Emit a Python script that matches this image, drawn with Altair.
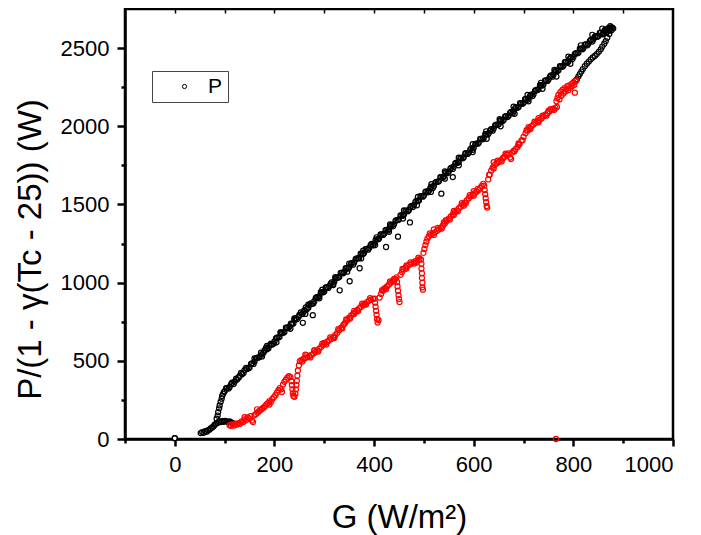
import altair as alt
import pandas as pd

# ---- data ----
black_g = [0,
    52, 55, 58, 61, 64, 67, 70, 72, 75, 78, 80, 83, 86, 89, 92, 95, 98, 101, 104, 107, 110, 113, 116,
    84, 86, 87, 89, 90, 92, 94, 95, 97, 99,
    100, 105, 110, 115, 120, 125, 130, 135, 140, 145, 150, 155, 160, 165, 170, 175, 180, 185, 190, 195,
    200, 205, 210, 215, 220, 225, 230, 235, 240, 245, 250, 255, 260, 265, 270, 275, 280, 285, 290, 295,
    300, 305, 310, 315, 320, 325, 330, 335, 340, 345, 350, 355, 360, 365, 370, 375, 380, 385, 390, 395,
    400, 405, 410, 415, 420, 425, 430, 435, 440, 445, 450, 455, 460, 465, 470, 475, 480, 485, 490, 495,
    500, 505, 510, 515, 520, 525, 530, 535, 540, 545, 550, 555, 560, 565, 570, 575, 580, 585, 590, 595,
    600, 605, 610, 615, 620, 625, 630, 635, 640, 645, 650, 655, 660, 665, 670, 675, 680, 685, 690, 695,
    700, 705, 710, 715, 720, 725, 730, 735, 740, 745, 750, 755, 760, 765, 770, 775, 780, 785, 790, 795,
    800, 805, 810, 815, 820, 825, 830, 835, 840, 845, 850, 855, 860, 865, 870, 875, 878,
    160, 185, 212, 240, 268, 296, 322, 350, 378, 405, 432, 460, 488, 515, 542, 570, 598, 625, 652, 680,
    708, 735, 762, 790, 815, 838, 858,
    175, 204, 232, 262, 290, 318, 346, 374, 402, 430, 458, 486, 514, 542, 570, 598, 626, 654, 682, 710,
    738, 766, 794,
    257, 277, 331, 351, 371, 424, 448, 472, 535, 558,
    876, 872, 868, 865, 862, 858, 855, 851, 847, 843, 839, 835, 831, 827, 823, 819, 816, 813, 810, 807, 804,
    870, 874, 866, 860, 880, 872]
black_p = [5,
    38, 44, 40, 50, 47, 56, 60, 68, 74, 82, 92, 98, 104, 112, 108, 114, 110, 116, 112, 108, 112, 106, 102,
    130, 150, 172, 196, 215, 238, 258, 275, 290, 302,
    305, 326, 333, 360, 366, 380, 403, 414, 441, 447, 458, 484, 495, 520, 524, 541, 566, 574, 599, 603,
    622, 648, 652, 677, 684, 712, 719, 736, 761, 766, 793, 798, 822, 830, 858, 863, 881, 907, 912, 938,
    944, 969, 977, 1002, 1006, 1031, 1036, 1063, 1068, 1092, 1098, 1124, 1129, 1155, 1158, 1185, 1190, 1216, 1221, 1247,
    1250, 1277, 1282, 1308, 1312, 1338, 1343, 1369, 1373, 1399, 1404, 1430, 1435, 1461, 1465, 1491, 1496, 1522, 1526, 1553,
    1557, 1583, 1588, 1614, 1618, 1645, 1649, 1675, 1679, 1706, 1710, 1736, 1741, 1767, 1771, 1798, 1802, 1828, 1832, 1859,
    1863, 1889, 1894, 1920, 1924, 1951, 1955, 1981, 1985, 2010, 2013, 2037, 2040, 2065, 2068, 2092, 2095, 2120, 2123, 2147,
    2150, 2175, 2178, 2202, 2205, 2232, 2236, 2263, 2268, 2294, 2299, 2325, 2330, 2355, 2358, 2383, 2387, 2412, 2415, 2440,
    2443, 2468, 2471, 2496, 2499, 2524, 2527, 2552, 2555, 2577, 2576, 2598, 2598, 2619, 2615, 2633, 2630,
    515, 595, 682, 772, 860, 955, 1035, 1122, 1205, 1290, 1372, 1462, 1548, 1630, 1712, 1800, 1885, 1968, 2045, 2125,
    2200, 2278, 2360, 2445, 2518, 2585, 2625,
    528, 618, 705, 800, 900, 985, 1070, 1155, 1240, 1325, 1410, 1495, 1580, 1665, 1750, 1835, 1920, 2000, 2080, 2160,
    2240, 2318, 2400,
    743, 792, 951, 1009, 1092, 1228, 1294, 1385, 1569, 1675,
    2612, 2590, 2566, 2545, 2528, 2510, 2492, 2476, 2462, 2450, 2440, 2428, 2414, 2400, 2384, 2366, 2350, 2334, 2318, 2300, 2290,
    2628, 2640, 2600, 2590, 2625, 2612]

# second run of the black band (interleaved readings)
black2_g = [103, 108, 113, 118, 123, 128, 133, 138, 143, 148, 153, 158, 163, 168, 173, 178, 183, 188, 193, 198,
    203, 208, 213, 218, 223, 228, 233, 238, 243, 248, 253, 258, 263, 268, 273, 278, 283, 288, 293, 298,
    303, 308, 313, 318, 323, 328, 333, 338, 343, 348, 353, 358, 363, 368, 373, 378, 383, 388, 393, 398,
    403, 408, 413, 418, 423, 428, 433, 438, 443, 448, 453, 458, 463, 468, 473, 478, 483, 488, 493, 498,
    503, 508, 513, 518, 523, 528, 533, 538, 543, 548, 553, 558, 563, 568, 573, 578, 583, 588, 593, 598,
    603, 608, 613, 618, 623, 628, 633, 638, 643, 648, 653, 658, 663, 668, 673, 678, 683, 688, 693, 698,
    703, 708, 713, 718, 723, 728, 733, 738, 743, 748, 753, 758, 763, 768, 773, 778, 783, 788, 793, 798,
    803, 808, 813, 818, 823, 828, 833, 838, 843, 848, 853, 858, 863, 868, 873]
black2_p = [325, 323, 351, 351, 386, 392, 423, 422, 454, 452, 480, 480, 515, 521, 552, 551, 583, 581, 609, 609,
    644, 650, 681, 680, 712, 710, 738, 738, 773, 779, 810, 809, 841, 839, 867, 867, 902, 908, 939, 938,
    969, 966, 994, 993, 1027, 1033, 1063, 1060, 1092, 1089, 1116, 1115, 1150, 1155, 1185, 1183, 1214, 1211, 1239, 1238,
    1272, 1277, 1308, 1305, 1336, 1334, 1361, 1360, 1395, 1400, 1430, 1427, 1459, 1456, 1483, 1483, 1517, 1522, 1553, 1550,
    1581, 1578, 1606, 1605, 1639, 1645, 1675, 1672, 1704, 1701, 1728, 1727, 1762, 1767, 1797, 1795, 1826, 1823, 1851, 1850,
    1884, 1889, 1920, 1917, 1948, 1946, 1973, 1972, 2005, 2009, 2038, 2034, 2063, 2059, 2085, 2083, 2115, 2119, 2148, 2144,
    2173, 2169, 2195, 2193, 2226, 2232, 2263, 2260, 2292, 2290, 2317, 2317, 2350, 2354, 2384, 2380, 2410, 2406, 2432, 2430,
    2463, 2467, 2496, 2492, 2522, 2518, 2544, 2542, 2573, 2572, 2597, 2588, 2614, 2605, 2627]

red_g = [110, 113, 116, 119, 122, 125, 128, 131, 134, 137, 140, 143, 146, 149, 152, 155, 157, 160, 163, 166,
    169, 172, 175, 178, 181, 184, 187, 190, 193, 196, 199, 202, 205, 208, 211, 214, 217, 220, 223, 226,
    229, 232, 234, 235, 236, 237, 238, 240, 242, 243, 244, 245, 246, 247, 249, 251, 254, 258, 262, 266,
    270, 274, 278, 282, 286, 290, 294, 298, 302, 306, 310, 314, 318, 322, 326, 330, 334, 338, 342, 346,
    350, 354, 358, 362, 366, 370, 374, 378, 382, 386, 390, 394, 398, 401, 402, 403, 404, 405, 406, 407,
    409, 411, 414, 418, 422, 426, 430, 434, 438, 442, 445, 446, 447, 448, 449, 450, 451, 453, 456, 459,
    463, 467, 471, 475, 479, 483, 487, 491, 494, 495, 495, 496, 496, 497, 497, 498, 499, 501, 503, 505,
    507, 510, 514, 518, 522, 526, 530, 534, 538, 542, 546, 550, 554, 558, 562, 566, 570, 574, 578, 582,
    586, 590, 594, 598, 602, 606, 610, 613, 616, 619, 621, 622, 623, 624, 625, 626, 627, 629, 632, 635,
    638, 642, 646, 650, 654, 658, 662, 666, 670, 673, 675, 677, 680, 684, 688, 692, 696, 700, 704, 708,
    712, 716, 720, 724, 728, 732, 736, 740, 744, 748, 752, 756, 760, 764, 767,
    766, 768, 770, 772, 774, 776, 778, 780, 782, 784, 786, 788, 790, 792, 794, 796, 798, 800, 802, 804,
    806, 803,
    140, 165, 190, 215, 262, 280, 300, 320, 340, 360, 380, 420, 440, 465, 485, 520, 540, 560, 580, 600,
    640, 660, 690, 710, 730, 750,
    765]
red_p = [88, 84, 92, 86, 98, 92, 102, 97, 112, 108, 126, 120, 138, 132, 146, 118, 108, 152, 160, 168,
    178, 186, 194, 200, 210, 222, 230, 242, 236, 256, 268, 280, 296, 312, 326, 318, 348, 366, 380, 392,
    402, 396, 370, 345, 318, 292, 275, 270, 290, 318, 345, 372, 405, 438, 470, 498, 505, 512, 518, 524,
    530, 538, 546, 556, 566, 578, 590, 602, 612, 622, 632, 640, 650, 664, 680, 696, 712, 728, 744, 760,
    776, 790, 802, 812, 824, 836, 846, 856, 866, 876, 884, 890, 896, 898, 872, 846, 820, 794, 768, 745,
    760, 905, 928, 948, 964, 976, 988, 1000, 1012, 1024, 1034, 1004, 976, 948, 920, 895, 876, 1050, 1068, 1084,
    1096, 1106, 1114, 1122, 1130, 1138, 1144, 1150, 1148, 1120, 1090, 1060, 1030, 1000, 970, 955, 1190, 1215, 1240, 1262,
    1282, 1296, 1306, 1314, 1322, 1330, 1340, 1352, 1364, 1378, 1394, 1410, 1424, 1436, 1450, 1462, 1474, 1486, 1498, 1512,
    1526, 1540, 1552, 1562, 1572, 1582, 1592, 1604, 1618, 1632, 1620, 1592, 1566, 1540, 1514, 1490, 1480, 1660, 1690, 1716,
    1736, 1752, 1762, 1772, 1782, 1794, 1806, 1818, 1826, 1800, 1790, 1832, 1842, 1854, 1868, 1886, 1910, 1932, 1956, 1972,
    1988, 2000, 2012, 2022, 2032, 2040, 2050, 2062, 2074, 2084, 2094, 2104, 2112, 2118, 2124,
    2160, 2180, 2200, 2172, 2218, 2196, 2232, 2210, 2244, 2222, 2236, 2256, 2230, 2262, 2246, 2270, 2258, 2280, 2265, 2288,
    2292, 2215,
    140, 190, 220, 300, 540, 566, 615, 650, 735, 800, 860, 960, 1022, 1110, 1128, 1340, 1385, 1432, 1492, 1585,
    1770, 1800, 1880, 1995, 2052, 2098,
    0]

# second run of the red band
red2_g = [256, 264, 272, 280, 288, 296, 304, 312, 320, 328, 336, 344, 352, 360, 368, 376, 384, 392,
    416, 424, 432, 440, 457, 465, 473, 481, 489,
    512, 520, 528, 536, 544, 552, 560, 568, 576, 584, 592, 600, 608,
    631, 640, 648, 656, 664, 682, 690, 698, 706, 714, 722, 730, 738, 746, 754, 762]
red2_p = [495, 536, 522, 566, 559, 610, 604, 650, 646, 702, 707, 765, 770, 820, 818, 865, 860, 900,
    952, 958, 1008, 1008, 1088, 1090, 1130, 1122, 1160,
    1315, 1305, 1350, 1346, 1400, 1404, 1458, 1456, 1508, 1508, 1560, 1556, 1600,
    1690, 1730, 1780, 1775, 1825, 1840, 1890, 1910, 1975, 1982, 2030, 2025, 2068, 2068, 2110, 2105]

x_major = [0, 200, 400, 600, 800, 1000]
x_minor = [-100, 100, 300, 500, 700, 900]
x_top = [0, 100, 200, 300, 400, 500, 600, 700, 800, 900]
y_major = [0, 500, 1000, 1500, 2000, 2500]
y_minor = [250, 750, 1250, 1750, 2250]

black = pd.DataFrame({"G": black_g + black2_g, "P": black_p + black2_p})
black["s"] = "P"
red = pd.DataFrame({"G": red_g + red2_g, "P": red_p + red2_p})

FONT = "Liberation Sans"
SIZE = 26
xs = alt.Scale(domain=[-100, 1000], nice=False, zero=False)
ys = alt.Scale(domain=[0, 2750], nice=False, zero=False)

black_layer = alt.Chart(black).mark_point(
    shape="circle", size=SIZE, strokeWidth=1.2, filled=False, opacity=1
).encode(
    x=alt.X("G:Q", scale=xs, axis=alt.Axis(
        orient="bottom", values=x_major, format="d", tickSize=7, tickWidth=2.5,
        domainWidth=2.5, labelFontSize=22, labelPadding=8, labelFont=FONT,
        title="G (W/m²)", titleFontSize=33, titleFontWeight="normal", titleFont=FONT,
        titleBaseline="alphabetic", titleY=88)),
    y=alt.Y("P:Q", scale=ys, axis=alt.Axis(
        orient="left", values=y_major, format="d", tickSize=8, tickWidth=2.5,
        domainWidth=2.5, labelFontSize=22, labelPadding=8, labelFont=FONT,
        title="P/(1 - γ(Tc - 25)) (W)", titleFontSize=33, titleFontWeight="normal", titleFont=FONT,
        titleBaseline="alphabetic", titleX=-85, titleY=240, titleAngle=270)),
    color=alt.Color("s:N", scale=alt.Scale(domain=["P"], range=["black"]), legend=alt.Legend(
        title=None, orient="none", legendX=27, legendY=62, fillColor="white", strokeColor="#444",
        padding=5, symbolType="circle", symbolSize=18, symbolStrokeWidth=1, symbolFillColor="white",
        symbolOffset=17, labelOffset=13, labelFontSize=21, labelFont=FONT, labelColor="black")),
)

red_layer = alt.Chart(red).mark_point(
    shape="circle", size=SIZE, strokeWidth=1.2, filled=False, color="#ff0000", opacity=1
).encode(
    x=alt.X("G:Q", scale=xs, axis=alt.Axis(
        orient="bottom", values=x_minor, tickSize=4, tickWidth=2.5, labels=False, domain=False, title=None)),
    y=alt.Y("P:Q", scale=ys, axis=alt.Axis(
        orient="left", values=y_minor, tickSize=4, tickWidth=2.5, labels=False, domain=False, title=None)),
)

top_layer = alt.Chart(pd.DataFrame({"G": [0], "P": [5]})).mark_point(
    shape="circle", size=SIZE, strokeWidth=1.2, fill="white", color="black", opacity=1
).encode(
    x=alt.X("G:Q", scale=xs, axis=alt.Axis(
        orient="top", values=x_top, tickSize=4, tickWidth=1.5, offset=-4,
        labels=False, domain=False, title=None)),
    y=alt.Y("P:Q", scale=ys, axis=None),
)

chart = alt.layer(top_layer, black_layer, red_layer).resolve_axis(
    x="independent", y="independent"
).properties(
    width=548, height=430,
    autosize=alt.AutoSizeParams(type="none"),
    padding={"left": 117, "top": 1, "right": 20, "bottom": 100},
).configure_view(
    stroke="black", strokeWidth=2.5
).configure_axis(
    grid=False, labelColor="black", titleColor="black", tickColor="black", domainColor="black"
)

chart.save("out.html", embed_options={"renderer": "svg", "actions": False})
